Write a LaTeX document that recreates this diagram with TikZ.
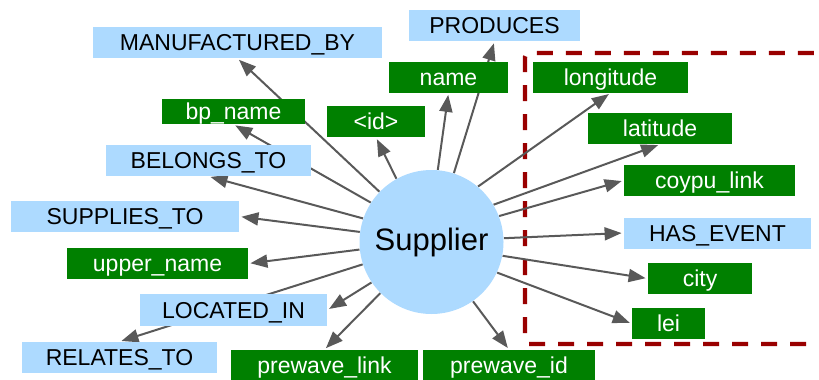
\documentclass[tikz,border=0pt]{standalone}
\usepackage{fontspec}
\setmainfont{Liberation Sans}
\usetikzlibrary{arrows.meta,backgrounds}

\definecolor{relblue}{RGB}{173,218,255}
\definecolor{propgreen}{RGB}{0,128,0}
\definecolor{edgegray}{RGB}{89,89,89}
\definecolor{boxred}{RGB}{153,0,0}

\tikzset{
  box/.style={rectangle, inner sep=0pt, minimum height=15.5pt, text height=8.2pt, text depth=0pt,
    font=\fontsize{11.5}{13.8}\selectfont},
  rel/.style={box, fill=relblue, text=black},
  prop/.style={box, fill=propgreen, text=white},
  edge/.style={draw=edgegray, line width=1pt, -{Triangle[length=8.5pt,width=6.5pt]}, shorten >=1pt},
}

\begin{document}
\begin{tikzpicture}[x=0.5pt, y=-0.5pt]
    \useasboundingbox (0,0) rectangle (819,380);

    % 中心
    \node [circle, fill=relblue, minimum size=72pt, inner sep=0pt, font=\fontsize{15.5}{18}\selectfont] (sup) at (431.5,242) {Supplier};

    % 上側
    \node [rel, minimum width=144.5pt] (mb) at (237.5,42.5) {MANUFACTURED\_BY};
    \node [rel, minimum width=85.5pt] (prod) at (494.5,25.5) {PRODUCES};
    \node [prop, minimum width=59.5pt] (name) at (448.5,77) {name};
    \node [prop, minimum width=71.5pt, minimum height=12.5pt] (bp) at (233.5,111.5) {bp\_name};
    \node [prop, minimum width=49pt] (id) at (376,121.5) {<id>};
    \node [rel, minimum width=102.5pt] (bel) at (208.5,160.5) {BELONGS\_TO};

    % 右側
    \node [prop, minimum width=77.5pt] (lon) at (610.5,77) {longitude};
    \node [prop, minimum width=72pt] (lat) at (660,128.5) {latitude};
    \node [prop, minimum width=85.5pt] (cl) at (709.5,180.5) {coypu\_link};
    \node [rel, minimum width=93.5pt] (he) at (717.5,233) {HAS\_EVENT};
    \node [prop, minimum width=52pt] (city) at (700,278.5) {city};
    \node [prop, minimum width=36.5pt] (lei) at (668.5,323.5) {lei};

    % 左側・下側
    \node [rel, minimum width=114pt] (st) at (125,216.5) {SUPPLIES\_TO};
    \node [prop, minimum width=90.5pt] (un) at (157.5,263.5) {upper\_name};
    \node [rel, minimum width=93.5pt, minimum height=16pt] (li) at (233.5,310) {LOCATED\_IN};
    \node [rel, minimum width=97.5pt] (rt) at (119.5,357.5) {RELATES\_TO};
    \node [prop, minimum width=93.5pt] (pl) at (324.5,365.5) {prewave\_link};
    \node [prop, minimum width=86pt] (pi) at (509,365.5) {prewave\_id};

    \begin{scope}[on background layer]
      % 破線の枠
      \draw [boxred, line width=2.2pt, dash pattern=on 8pt off 6.5pt, rounded corners=2pt]
        (835,344) -- (525,344) -- (525,53) -- (835,53);

      % 矢印
      \draw [edge] (sup.136) -- (mb.south);
      \draw [edge] (sup.147) -- (bp.south);
      \draw [edge] (sup.161) -- (bel.south);
      \draw [edge] (sup.172) -- (st.east);
      \draw [edge] (sup.186) -- (un.east);
      \draw [edge] (sup.198) -- (rt.north);
      \draw [edge] (sup.214) -- (li.east);
      \draw [edge] (sup.225) -- (pl.north);
      \draw [edge] (sup.305.6) -- (pi.north);
      \draw [edge] (sup.335) -- (lei.west);
      \draw [edge] (sup.349.7) -- (city.west);
      \draw [edge] (sup.3) -- (he.west);
      \draw [edge] (sup.21.5) -- (cl.west);
      \draw [edge] (sup.31.6) -- (lat.south);
      \draw [edge] (sup.50.8) -- (lon.south);
      \draw [edge] (sup.72.7) -- (prod.south);
      \draw [edge] (sup.85.6) -- (name.south);
      \draw [edge] (sup.119.7) -- (id.south);
    \end{scope}

\end{tikzpicture}
\end{document}
